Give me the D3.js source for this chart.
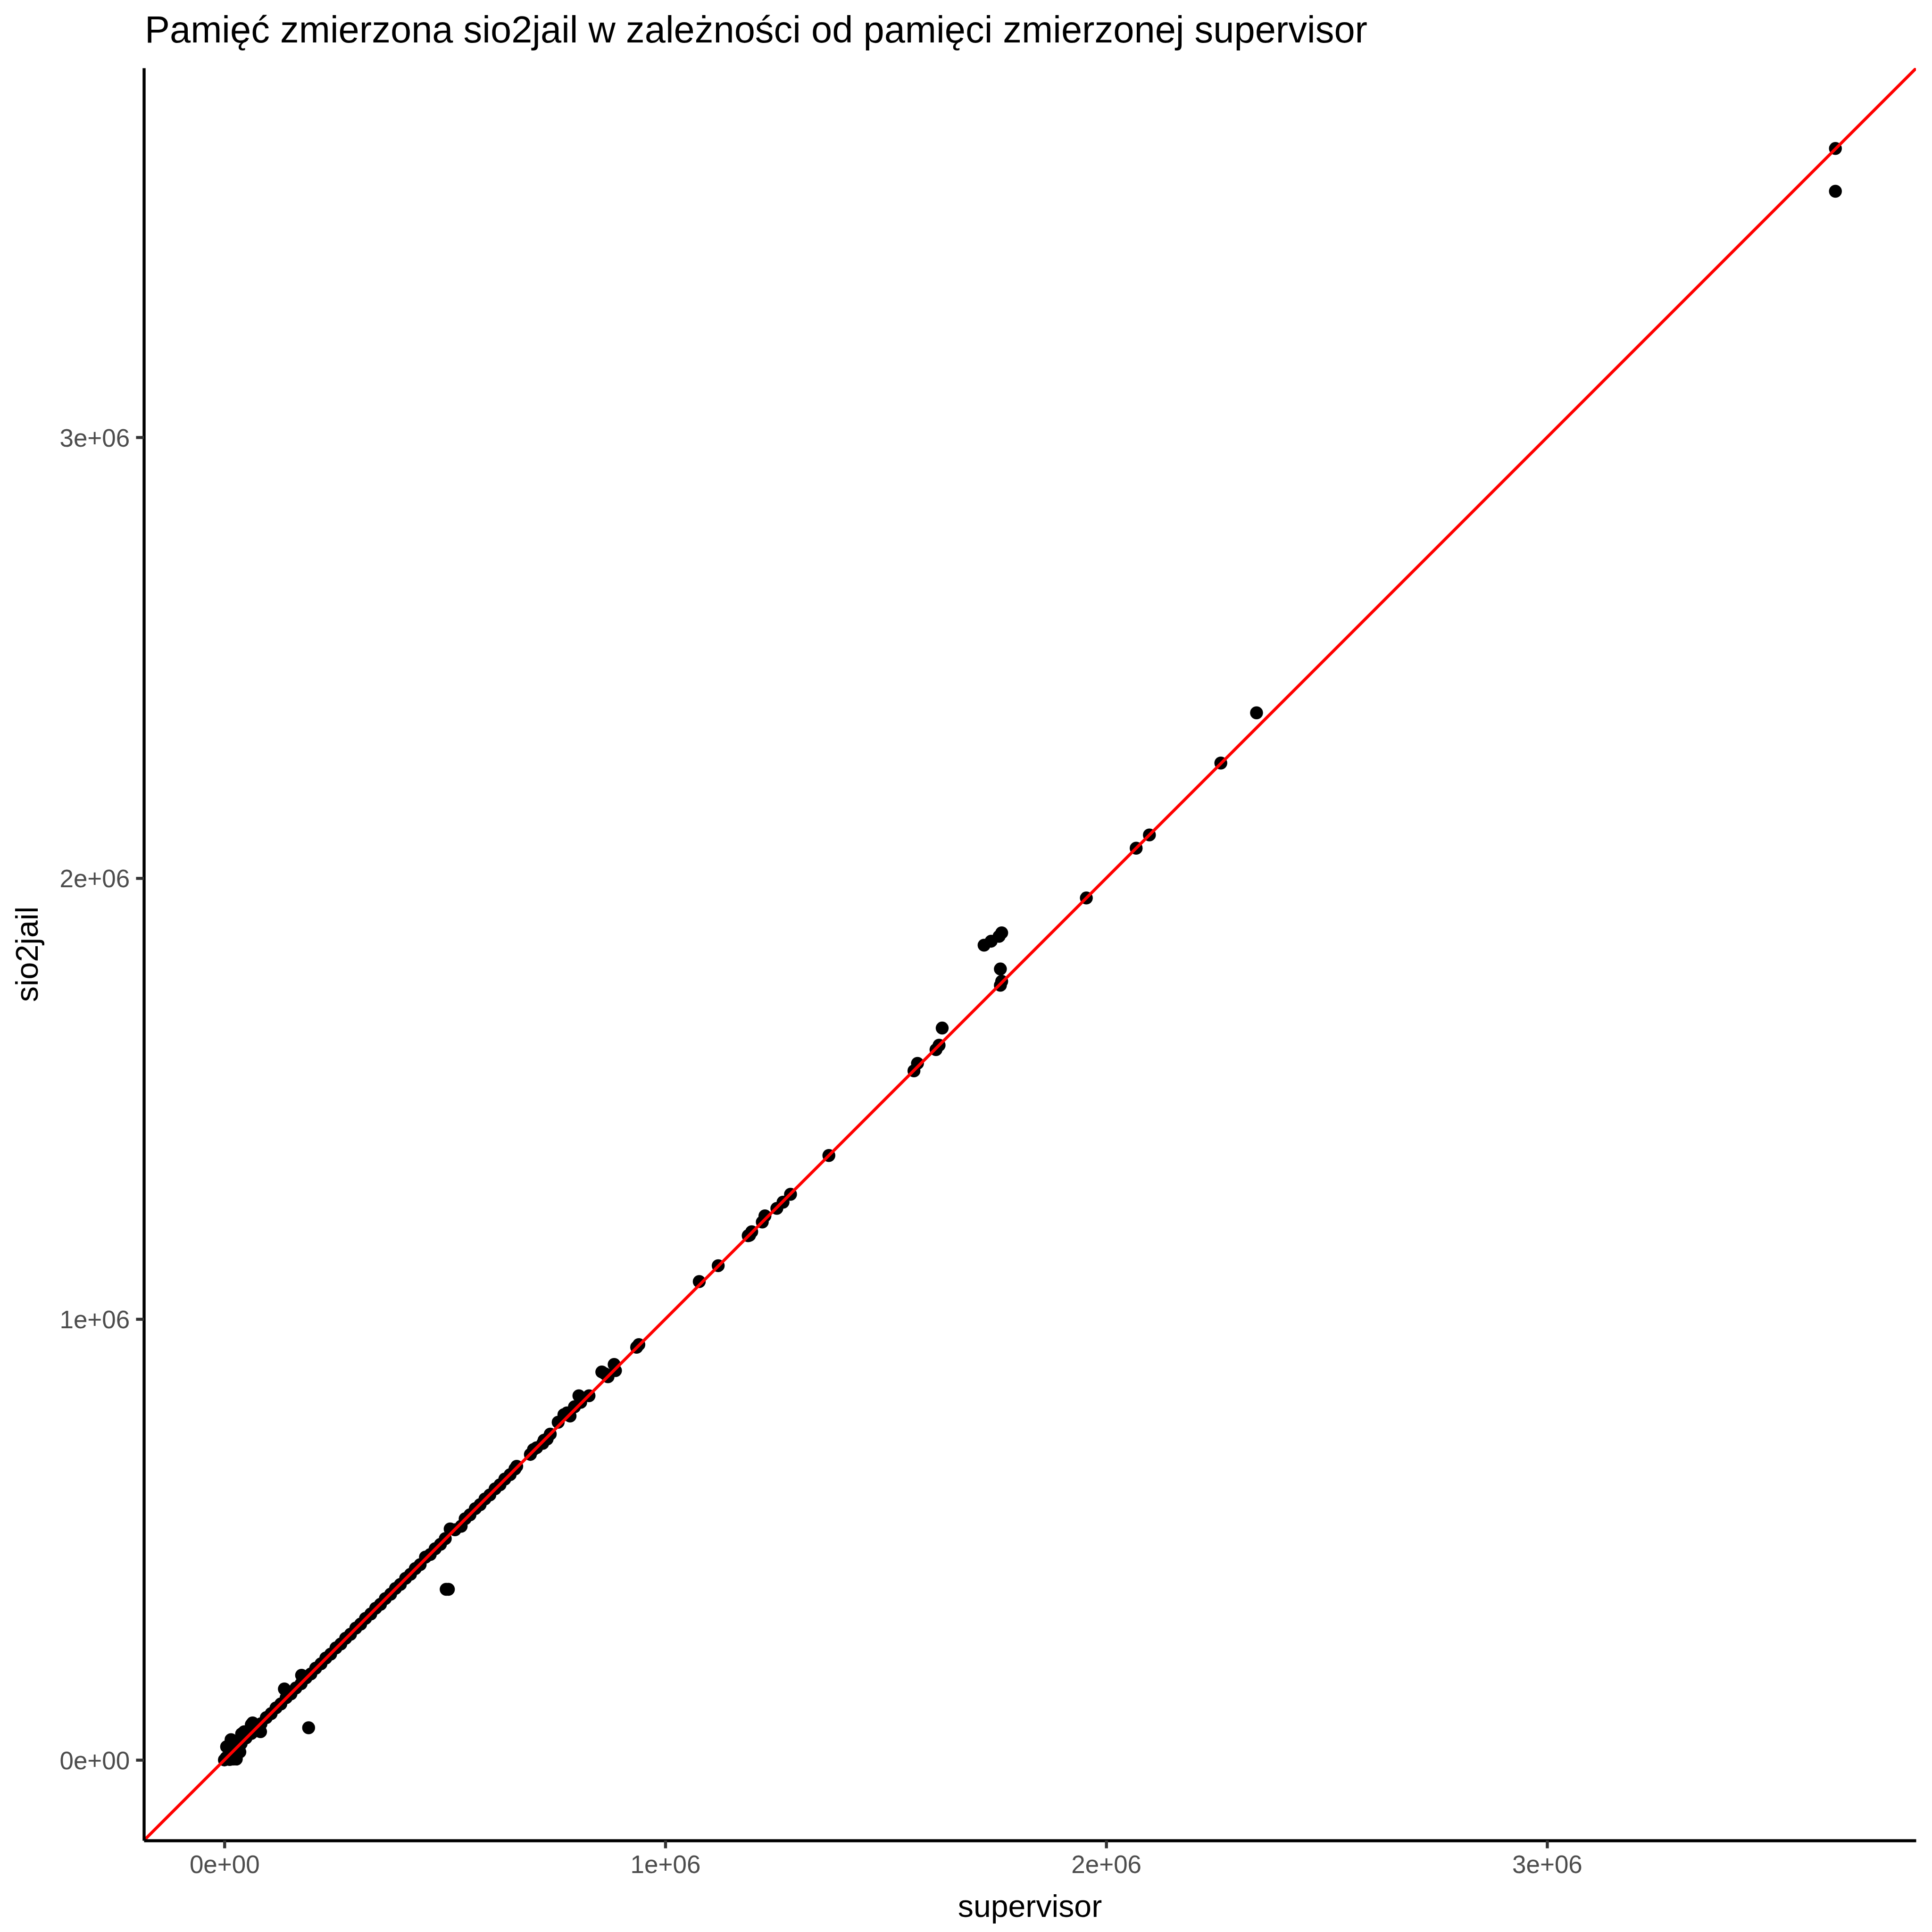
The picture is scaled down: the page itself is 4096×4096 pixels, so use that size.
<!DOCTYPE html>
<html>
<head>
<meta charset="utf-8">
<script src="https://cdn.jsdelivr.net/npm/d3@7"></script>
<style>
  html, body { margin: 0; padding: 0; background: #ffffff; }
  svg text { font-family: "Liberation Sans", Arial, sans-serif; }
</style>
</head>
<body>
<div id="chart"></div>
<script>
// ---- Data (bytes of memory measured by each tool)
const supervisor = [
    0, 12000, 20000, 27000, 5000, 9000, 15000, 35000, 39000, 45000, 61000, 64000, 80000, 82000, 136000, 175000, 191000,
    4000, 16000, 27000, 38000, 49000, 61000, 72000, 83000, 95000, 106000, 117000, 128000, 140000, 151000, 162000,
    174000, 185000, 196000, 207000, 219000, 230000, 241000, 253000, 264000, 275000, 286000, 298000, 309000, 320000,
    332000, 343000, 354000, 365000, 377000, 388000, 399000, 411000, 422000, 433000, 444000, 456000, 467000, 478000,
    490000, 501000, 512000, 523000, 537000, 546000, 557000, 569000, 580000, 591000, 602000, 614000, 625000, 636000,
    648000, 659000, 663000,
    503000, 508000,
    694000, 701000, 708000, 722000, 725000, 732000, 739000, 757000, 770000, 777000, 784000, 794000, 804000, 808000,
    827000, 856000, 863000, 870000, 884000, 887000, 935000, 940000,
    1077000, 1120000, 1188000, 1191000, 1196000, 1220000, 1226000, 1253000, 1267000, 1284000, 1371000,
    1564000, 1572000, 1614000, 1621000, 1628000, 1723000, 1739000, 1757000, 1763000, 1760000, 1763000, 1760000,
    1955000, 2068000, 2098000, 2260000, 2341000, 3654000, 3654000
];
const sio2jail = [
    0, 1000, 2000, 2000, 30000, 28000, 46000, 18000, 59000, 64000, 80000, 84000, 65000, 64000, 161000, 192000, 73000,
    5000, 15000, 28000, 37000, 50000, 60000, 73000, 82000, 96000, 105000, 118000, 127000, 141000, 150000, 163000,
    173000, 186000, 195000, 208000, 218000, 231000, 240000, 254000, 263000, 276000, 285000, 299000, 308000, 321000,
    331000, 344000, 353000, 366000, 376000, 389000, 398000, 412000, 421000, 434000, 443000, 460000, 466000, 479000,
    489000, 502000, 524000, 522000, 530000, 547000, 556000, 570000, 579000, 592000, 601000, 615000, 624000, 637000,
    647000, 660000, 666000,
    387000, 387000,
    693000, 704000, 708000, 718000, 725000, 728000, 739000, 766000, 783000, 787000, 780000, 801000, 826000, 811000,
    826000, 880000, 876000, 869000, 897000, 883000, 936000, 942000,
    1085000, 1121000, 1189000, 1190000, 1198000, 1220000, 1234000, 1251000, 1265000, 1283000, 1371000,
    1563000, 1580000, 1611000, 1621000, 1660000, 1848000, 1857000, 1868000, 1876000, 1794000, 1766000, 1757000,
    1955000, 2068000, 2098000, 2261000, 2375000, 3655000, 3558000
];

const tickValues = [0, 1e6, 2e6, 3e6];

const title = 'Pamięć zmierzona sio2jail w zależności od pamięci zmierzonej supervisor';
const xTitle = 'supervisor';
const yTitle = 'sio2jail';

// ---- Layout
const width = 4096, height = 4096;
const margins = { left: 305, right: 4096 - 4062, top: 144, bottom: 4096 - 3902 };
const pw = width - margins.left - margins.right;
const ph = height - margins.top - margins.bottom;

const pt = 6.02;          // px per point at this size
const lineW = 6.4;
const tickLen = 2.75 * pt;

// ---- Scales (ggplot style 5% expansion)
const expand = ext => {
    const pad = (ext[1] - ext[0]) * 0.05;
    return [ext[0] - pad, ext[1] + pad];
};
const x = d3.scaleLinear().domain(expand(d3.extent(supervisor))).range([0, pw]);
const y = d3.scaleLinear().domain(expand(d3.extent(sio2jail))).range([ph, 0]);

// R style scientific labels: 1e+06
const sci = v => {
    const s = d3.format('.0e')(v);
    return s.replace(/e([+-])(\d)$/, 'e$10$2');
};

const svg = d3.select('#chart').append('svg')
    .attr('width', width)
    .attr('height', height)
    .style('display', 'block');

svg.append('rect').attr('width', width).attr('height', height).attr('fill', '#ffffff');

svg.append('defs').append('clipPath').attr('id', 'panelClip')
    .append('rect').attr('width', pw).attr('height', ph);

const panel = svg.append('g')
    .attr('transform', `translate(${margins.left},${margins.top})`);

// ---- Points
const marks = panel.append('g').attr('clip-path', 'url(#panelClip)');
marks.selectAll('circle')
    .data(d3.range(supervisor.length))
    .join('circle')
    .attr('cx', i => x(supervisor[i]))
    .attr('cy', i => y(sio2jail[i]))
    .attr('r', 13.7)
    .attr('fill', '#000000');

// ---- Reference line y = x
const [d0, d1] = x.domain();
marks.append('line')
    .attr('x1', x(d0)).attr('y1', y(d0))
    .attr('x2', x(d1)).attr('y2', y(d1))
    .attr('stroke', '#ff0000')
    .attr('stroke-width', lineW);

// ---- Axes
const styleAxis = g => {
    g.select('.domain').attr('stroke', '#000000').attr('stroke-width', lineW);
    g.selectAll('.tick line').attr('stroke', '#333333').attr('stroke-width', lineW);
    g.selectAll('.tick text')
        .attr('fill', '#4d4d4d')
        .style('font-size', `${8.8 * pt}px`)
        .style('font-family', '"Liberation Sans", Arial, sans-serif');
};

const xAxis = panel.append('g')
    .attr('transform', `translate(0,${ph})`)
    .call(d3.axisBottom(x).tickValues(tickValues).tickFormat(sci)
        .tickSizeInner(tickLen).tickSizeOuter(0).tickPadding(2.2 * pt))
    .call(styleAxis);
xAxis.selectAll('.tick text').attr('dy', '0.74em');

const yAxis = panel.append('g')
    .call(d3.axisLeft(y).tickValues(tickValues).tickFormat(sci)
        .tickSizeInner(tickLen).tickSizeOuter(0).tickPadding(2.2 * pt))
    .call(styleAxis);
yAxis.selectAll('.tick text').attr('dy', '0.36em');

// ---- Titles
svg.append('text')
    .attr('x', margins.left + 2)
    .attr('y', 90)
    .attr('fill', '#000000')
    .style('font-size', `${13.2 * pt}px`)
    .text(title);

svg.append('text')
    .attr('x', margins.left + pw / 2)
    .attr('y', 4064)
    .attr('text-anchor', 'middle')
    .attr('fill', '#000000')
    .style('font-size', `${11 * pt}px`)
    .text(xTitle);

svg.append('text')
    .attr('transform', `translate(80,${margins.top + ph / 2}) rotate(-90)`)
    .attr('text-anchor', 'middle')
    .attr('fill', '#000000')
    .style('font-size', `${11 * pt}px`)
    .text(yTitle);
</script>
</body>
</html>
